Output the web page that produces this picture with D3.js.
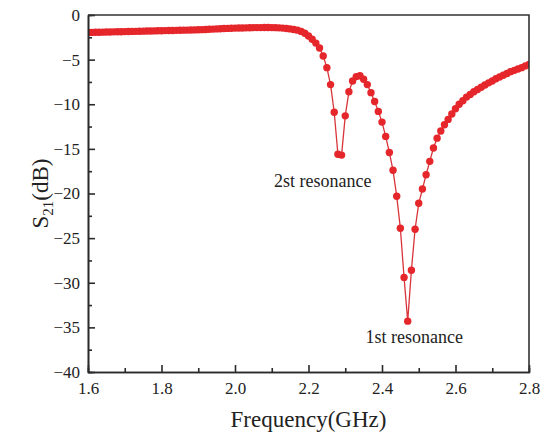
<!DOCTYPE html>
<html>
<head>
<meta charset="utf-8">
<script src="https://cdn.jsdelivr.net/npm/d3@7"></script>
<style>
  body { margin: 0; background: #fff; }
  svg text { font-family: "Liberation Serif", "Times New Roman", serif; fill: #222; }
</style>
</head>
<body>
<script>
var freqStart = 1.6,
    freqStep = 0.01;

var s21 = [
  -1.96, -1.95, -1.94, -1.93, -1.92, -1.91, -1.90, -1.89, -1.88, -1.87,
  -1.86, -1.85, -1.84, -1.83, -1.82, -1.81, -1.80, -1.79, -1.78, -1.77,
  -1.76, -1.75, -1.74, -1.73, -1.72, -1.71, -1.70, -1.69, -1.68, -1.67,
  -1.66, -1.64, -1.62, -1.60, -1.58, -1.56, -1.54, -1.52, -1.50, -1.49,
  -1.47, -1.46, -1.45, -1.44, -1.43, -1.42, -1.41, -1.41, -1.40, -1.40,
  -1.41, -1.42, -1.44, -1.47, -1.51, -1.56, -1.62, -1.70, -1.84, -2.05,
  -2.35, -2.72, -3.15, -3.70, -4.60, -5.90, -7.80, -10.90, -15.60, -15.70,
  -11.30, -8.60, -7.40, -6.90, -6.80, -7.20, -7.80, -8.70, -9.70, -10.80,
  -12.00, -13.60, -15.40, -17.40, -20.30, -23.90, -29.40, -34.30, -28.60, -24.00,
  -21.10, -19.50, -17.90, -16.40, -14.90, -13.80, -13.00, -12.30, -11.70, -11.10,
  -10.50, -10.00, -9.60, -9.20, -8.90, -8.60, -8.35, -8.10, -7.85, -7.60,
  -7.40, -7.15, -6.95, -6.75, -6.55, -6.35, -6.20, -6.05, -5.90, -5.70,
  -5.55
];

var xTicks = [1.6, 1.8, 2.0, 2.2, 2.4, 2.6, 2.8],
    xMinor = [1.7, 1.9, 2.1, 2.3, 2.5, 2.7],
    yTicks = [0, -5, -10, -15, -20, -25, -30, -35, -40],
    yMinor = [-2.5, -7.5, -12.5, -17.5, -22.5, -27.5, -32.5, -37.5];

var notes = [
  {text: "2st resonance", f: 2.239, db: -19.3},
  {text: "1st resonance", f: 2.488, db: -36.8}
];

var width = 541,
    height = 434,
    margin = {top: 15, right: 12, bottom: 62, left: 88},
    w = width - margin.left - margin.right,
    h = height - margin.top - margin.bottom;

var points = s21.map(function(v, i){ return [freqStart + i * freqStep, v]; });

var svg = d3.select('body').append('svg')
    .attr('width', width)
    .attr('height', height);

var g = svg.append('g')
    .attr('transform', 'translate(' + margin.left + ',' + margin.top + ')');

var x = d3.scaleLinear().domain([1.6, 2.8]).range([0, w]);
var y = d3.scaleLinear().domain([-40, 0]).range([h, 0]);

g.append('clipPath').attr('id', 'plotclip')
  .append('rect').attr('width', w).attr('height', h);

//curve and markers
var plot = g.append('g').attr('clip-path', 'url(#plotclip)');

plot.append('path')
    .datum(points)
    .attr('fill', 'none')
    .attr('stroke', '#d8353a')
    .attr('stroke-width', 1.3)
    .attr('d', d3.line()
      .x(function(d){ return x(d[0]); })
      .y(function(d){ return y(d[1]); }));

plot.selectAll('circle')
    .data(points)
  .enter().append('circle')
    .attr('cx', function(d){ return x(d[0]); })
    .attr('cy', function(d){ return y(d[1]); })
    .attr('r', 3.7)
    .attr('fill', '#e5262b');

//axes, ticks point inward
var styleAxis = function(sel){
  sel.attr('font-family', null);
  sel.selectAll('path, line').attr('stroke', '#2a2a2a').attr('stroke-width', 1.6);
  sel.selectAll('text').attr('font-size', 17).attr('fill', '#222')
    .style('font-family', '"Liberation Serif", "Times New Roman", serif');
};

g.append('g')
    .attr('transform', 'translate(0,' + h + ')')
    .call(d3.axisBottom(x).tickValues(xMinor).tickSize(-4).tickFormat(''))
    .call(styleAxis);

g.append('g')
    .attr('transform', 'translate(0,' + h + ')')
    .call(d3.axisBottom(x).tickValues(xTicks).tickSize(-7).tickSizeOuter(0)
      .tickPadding(10).tickFormat(d3.format('.1f')))
    .call(styleAxis);

g.append('g')
    .call(d3.axisLeft(y).tickValues(yMinor).tickSize(-4).tickFormat(''))
    .call(styleAxis);

g.append('g')
    .call(d3.axisLeft(y).tickValues(yTicks).tickSize(-7).tickSizeOuter(0)
      .tickPadding(8).tickFormat(d3.format('d')))
    .call(styleAxis);

//top and right border
g.append('path')
    .attr('d', 'M0,0H' + w + 'V' + h)
    .attr('fill', 'none')
    .attr('stroke', '#333')
    .attr('stroke-width', 1.6);

//annotations
g.selectAll('.note')
    .data(notes)
  .enter().append('text')
    .attr('class', 'note')
    .attr('x', function(d){ return x(d.f); })
    .attr('y', function(d){ return y(d.db); })
    .attr('text-anchor', 'middle')
    .attr('font-size', 18)
    .text(function(d){ return d.text; });

//axis titles
svg.append('text')
    .attr('x', margin.left + w / 2)
    .attr('y', 427)
    .attr('text-anchor', 'middle')
    .attr('font-size', 23)
    .text('Frequency(GHz)');

var yl = svg.append('text')
    .attr('transform', 'translate(48,' + (margin.top + h / 2) + ') rotate(-90)')
    .attr('text-anchor', 'middle')
    .attr('font-size', 23);
yl.append('tspan').text('S');
yl.append('tspan').attr('font-size', 15).attr('dy', 5).text('21');
yl.append('tspan').attr('dy', -5).text('(dB)');
</script>
</body>
</html>
